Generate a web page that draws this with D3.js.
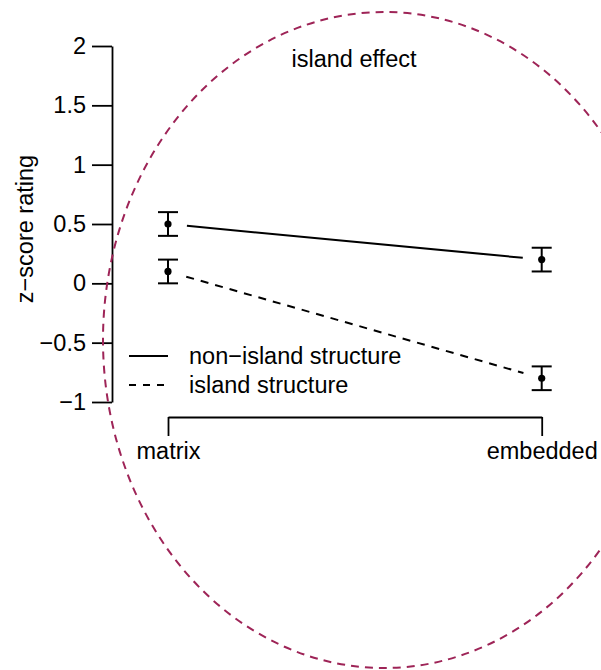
<!DOCTYPE html>
<html>
<head>
<meta charset="utf-8">
<script src="https://cdn.jsdelivr.net/npm/d3@7/dist/d3.min.js"></script>
<style>
  html, body { margin: 0; padding: 0; background: #fff; }
  svg { display: block; }
  text { font-family: "Liberation Sans", Helvetica, Arial, sans-serif; fill: #000; }
</style>
</head>
<body>
<svg id="chart" width="601" height="670"></svg>
<script>
// Conditions on the x axis
const conditions = ["matrix", "embedded"];
// Mean z-score ratings per structure type, one value per condition
const nonIsland = [0.5, 0.2];
const island = [0.1, -0.8];
// Standard errors
const nonIslandSE = [0.1, 0.1];
const islandSE = [0.1, 0.1];
// Y tick values and labels
const yTicks = [-1, -0.5, 0, 0.5, 1, 1.5, 2];
const yTickLabels = ["\u22121", "\u22120.5", "0", "0.5", "1", "1.5", "2"];
const seriesNames = ["non\u2212island structure", "island structure"];

const svg = d3.select("#chart");
const fontSize = 23.5;

const x = d3.scalePoint().domain(conditions).range([168, 541.7]);
const y = d3.scaleLinear().domain([-1, 2]).range([402, 46]);

// Y axis (R-style: line spans the tick range, ticks to the left)
const yAxis = d3.axisLeft(y)
  .tickValues(yTicks)
  .tickFormat((d, i) => yTickLabels[i])
  .tickSize(20)
  .tickPadding(6)
  .tickSizeOuter(0);
const gy = svg.append("g").attr("transform", "translate(112,0)").call(yAxis);
gy.select(".domain").attr("stroke", "#000").attr("stroke-width", 1.8);
gy.selectAll(".tick line").attr("stroke", "#000").attr("stroke-width", 1.8);
gy.selectAll(".tick text")
  .attr("font-size", fontSize)
  .attr("font-family", "Liberation Sans, Helvetica, Arial, sans-serif")
  .attr("fill", "#000");

// X axis below the plot, ticks pointing down
const xAxis = d3.axisBottom(x).tickSize(19).tickPadding(6).tickSizeOuter(0);
const gx = svg.append("g").attr("transform", "translate(0,417)").call(xAxis);
gx.select(".domain").attr("stroke", "#000").attr("stroke-width", 1.8);
gx.selectAll(".tick line").attr("stroke", "#000").attr("stroke-width", 1.8);
gx.selectAll(".tick text")
  .attr("font-size", fontSize)
  .attr("font-family", "Liberation Sans, Helvetica, Arial, sans-serif")
  .attr("fill", "#000");

// Y axis title
svg.append("text")
  .attr("transform", "translate(33,229) rotate(-90)")
  .attr("text-anchor", "middle")
  .attr("font-size", fontSize)
  .text("z\u2212score rating");

// Panel title
svg.append("text")
  .attr("x", 354).attr("y", 67)
  .attr("text-anchor", "middle")
  .attr("font-size", fontSize)
  .text("island effect");

// Connecting lines, trimmed short of the points
function drawSeries(values, dash) {
  const p0 = [x(conditions[0]), y(values[0])];
  const p1 = [x(conditions[1]), y(values[1])];
  const dx = p1[0] - p0[0], dy = p1[1] - p0[1];
  const len = Math.hypot(dx, dy);
  const gap = 19;
  svg.append("line")
    .attr("x1", p0[0] + dx / len * gap).attr("y1", p0[1] + dy / len * gap)
    .attr("x2", p1[0] - dx / len * gap).attr("y2", p1[1] - dy / len * gap)
    .attr("stroke", "#000").attr("stroke-width", 2)
    .attr("stroke-dasharray", dash);
}
drawSeries(nonIsland, null);
drawSeries(island, "8,7");

// Error bars and points
function drawPoints(values, se) {
  const g = svg.append("g");
  conditions.forEach((c, i) => {
    const cx = x(c);
    const lo = y(values[i] - se[i]), hi = y(values[i] + se[i]);
    g.append("line").attr("x1", cx).attr("x2", cx).attr("y1", lo).attr("y2", hi)
      .attr("stroke", "#000").attr("stroke-width", 2);
    [lo, hi].forEach(v => g.append("line")
      .attr("x1", cx - 10).attr("x2", cx + 10).attr("y1", v).attr("y2", v)
      .attr("stroke", "#000").attr("stroke-width", 2));
    g.append("circle").attr("cx", cx).attr("cy", y(values[i])).attr("r", 3.6).attr("fill", "#000");
  });
}
drawPoints(nonIsland, nonIslandSE);
drawPoints(island, islandSE);

// Legend
const legend = svg.append("g");
[[356, null], [385, "7,7"]].forEach(([ly, dash], i) => {
  legend.append("line")
    .attr("x1", 129).attr("x2", 168).attr("y1", ly).attr("y2", ly)
    .attr("stroke", "#000").attr("stroke-width", 2)
    .attr("stroke-dasharray", dash);
  legend.append("text")
    .attr("x", 189).attr("y", ly + 8)
    .attr("font-size", fontSize)
    .text(seriesNames[i]);
});

// Dashed highlight ellipse
svg.append("ellipse")
  .attr("cx", 384).attr("cy", 340)
  .attr("rx", 281).attr("ry", 328)
  .attr("fill", "none")
  .attr("stroke", "#9E2457")
  .attr("stroke-width", 2)
  .attr("stroke-dasharray", "8,6");
</script>
</body>
</html>
